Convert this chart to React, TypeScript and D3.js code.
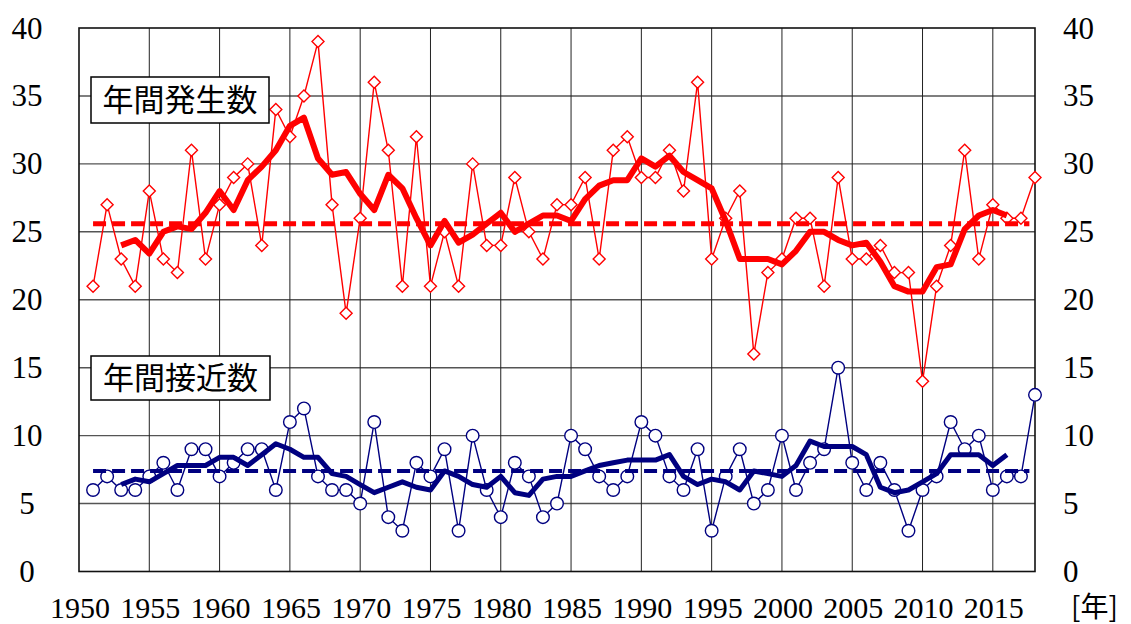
import React from 'react';
import * as d3 from 'd3';

// 年間発生数 / 年間接近数, 1951-2018
const years = d3.range(1951, 2019);
const formed = [
  21, 27, 23, 21, 28, 23, 22, 31, 23, 27,
  29, 30, 24, 34, 32, 35, 39, 27, 19, 26,
  36, 31, 21, 32, 21, 25, 21, 30, 24, 24,
  29, 25, 23, 27, 27, 29, 23, 31, 32, 29,
  29, 31, 28, 36, 23, 26, 28, 16, 22, 23,
  26, 26, 21, 29, 23, 23, 24, 22, 22, 14,
  21, 24, 31, 23, 27, 26, 26, 29,
];
const approach = [
  6, 7, 6, 6, 7, 8, 6, 9, 9, 7,
  8, 9, 9, 6, 11, 12, 7, 6, 6, 5,
  11, 4, 3, 8, 7, 9, 3, 10, 6, 4,
  8, 7, 4, 5, 10, 9, 7, 6, 7, 11,
  10, 7, 6, 9, 3, 7, 9, 5, 6, 10,
  6, 8, 9, 15, 8, 6, 8, 6, 3, 6,
  7, 11, 9, 10, 6, 7, 7, 13,
];
// 5-year running means, 1953-2016
const maYears = d3.range(1953, 2017);
const formedMA = [
  24.0, 24.4, 23.4, 25.0, 25.4, 25.2, 26.4, 28.0, 26.6, 28.8,
  29.8, 31.0, 32.8, 33.4, 30.4, 29.2, 29.4, 27.8, 26.6, 29.2,
  28.2, 26.0, 24.0, 25.8, 24.2, 24.8, 25.6, 26.4, 25.0, 25.6,
  26.2, 26.2, 25.8, 27.4, 28.4, 28.8, 28.8, 30.4, 29.8, 30.6,
  29.4, 28.8, 28.2, 25.8, 23.0, 23.0, 23.0, 22.6, 23.6, 25.0,
  25.0, 24.4, 24.0, 24.2, 22.8, 21.0, 20.6, 20.6, 22.4, 22.6,
  25.2, 26.2, 26.6, 26.2,
];
const approachMA = [
  6.4, 6.8, 6.6, 7.2, 7.8, 7.8, 7.8, 8.4, 8.4, 7.8,
  8.6, 9.4, 9.0, 8.4, 8.4, 7.2, 7.0, 6.4, 5.8, 6.2,
  6.6, 6.2, 6.0, 7.4, 7.0, 6.4, 6.2, 7.0, 5.8, 5.6,
  6.8, 7.0, 7.0, 7.4, 7.8, 8.0, 8.2, 8.2, 8.2, 8.6,
  7.0, 6.4, 6.8, 6.6, 6.0, 7.4, 7.2, 7.0, 7.8, 9.6,
  9.2, 9.2, 9.2, 8.6, 6.2, 5.8, 6.0, 6.6, 7.2, 8.6,
  8.6, 8.6, 7.8, 8.6,
];
const formedMean = 25.6;
const approachMean = 7.4;
const normalYears = [1951, 2017.6];

const yTicks = [0, 5, 10, 15, 20, 25, 30, 35, 40];
const xGridYears = [1955, 1960, 1965, 1970, 1975, 1980, 1985, 1990, 1995, 2000, 2005, 2010, 2015];
const xLabels = ['1950', '1955', '1960', '1965', '1970', '1975', '1980', '1985', '1990', '1995', '2000', '2005', '2010', '2015'];

const W = 1131;
const H = 624;
const serif = 'Liberation Serif, Times New Roman, DejaVu Serif, serif';
const jp = 'Noto Sans CJK JP, Noto Sans, sans-serif';
const RED = '#ff0000';
const NAVY = '#000080';

const App = () => {
  const x = d3.scaleLinear().domain([1950, 2018]).range([79, 1035]);
  const y = d3.scaleLinear().domain([0, 40]).range([571.5, 28]);

  const line = d3
    .line<[number, number]>()
    .x((d) => x(d[0]))
    .y((d) => y(d[1]));

  const zip = (xs: number[], vs: number[]) => xs.map((v, i) => [v, vs[i]] as [number, number]);

  const diamond = (cx: number, cy: number, r: number) =>
    `M${cx - r},${cy}L${cx},${cy - r}L${cx + r},${cy}L${cx},${cy + r}Z`;

  return (
    <svg width={W} height={H} style={{ position: 'fixed', left: 0, top: 0, background: '#fff' }}>
      {/* grid */}
      {yTicks.slice(1, -1).map((t) => (
        <line key={'h' + t} x1={x(1950)} x2={x(2018)} y1={y(t)} y2={y(t)} stroke="#555" strokeWidth={1.4} />
      ))}
      {xGridYears.map((yr) => (
        <line key={'v' + yr} x1={x(yr)} x2={x(yr)} y1={y(40)} y2={y(0)} stroke="#222" strokeWidth={1} />
      ))}
      <rect x={x(1950)} y={y(40)} width={x(2018) - x(1950)} height={y(0) - y(40)} fill="none" stroke="#111" strokeWidth={1.6} />

      {/* 年間発生数 */}
      <path d={line(zip(years, formed)) ?? ''} fill="none" stroke={RED} strokeWidth={1.4} />
      {years.map((yr, i) => (
        <path key={'fd' + yr} d={diamond(x(yr), y(formed[i]), 6)} fill="#fff" stroke={RED} strokeWidth={1.4} />
      ))}
      <path d={line(zip(maYears, formedMA)) ?? ''} fill="none" stroke={RED} strokeWidth={6} strokeLinejoin="round" />
      <path
        d={line(zip(normalYears, [formedMean, formedMean])) ?? ''}
        fill="none"
        stroke={RED}
        strokeWidth={5}
        strokeDasharray="13,6"
      />

      {/* 年間接近数 */}
      <path d={line(zip(years, approach)) ?? ''} fill="none" stroke={NAVY} strokeWidth={1.4} />
      {years.map((yr, i) => (
        <circle key={'ac' + yr} cx={x(yr)} cy={y(approach[i])} r={6.3} fill="#fff" stroke={NAVY} strokeWidth={1.4} />
      ))}
      <path d={line(zip(maYears, approachMA)) ?? ''} fill="none" stroke={NAVY} strokeWidth={5} strokeLinejoin="round" />
      <path
        d={line(zip(normalYears, [approachMean, approachMean])) ?? ''}
        fill="none"
        stroke={NAVY}
        strokeWidth={4}
        strokeDasharray="13,6"
      />

      {/* series labels */}
      <rect x={91} y={77} width={178} height={46} fill="#fff" stroke="#000" strokeWidth={1.5} />
      <text x={180} y={111} textAnchor="middle" style={{ fontFamily: jp, fontSize: 31 }} fill="#000">
        年間発生数
      </text>
      <rect x={91} y={356} width={179} height={44} fill="#fff" stroke="#000" strokeWidth={1.5} />
      <text x={180.5} y={389} textAnchor="middle" style={{ fontFamily: jp, fontSize: 31 }} fill="#000">
        年間接近数
      </text>

      {/* axes labels */}
      <g style={{ fontFamily: serif, fontSize: 31 }} fill="#000">
        {yTicks.map((t) => (
          <g key={'yl' + t}>
            <text x={27} y={y(t) + 10.5} textAnchor="middle">
              {t}
            </text>
            <text x={1063} y={y(t) + 10.5} textAnchor="start">
              {t}
            </text>
          </g>
        ))}
      </g>
      <g style={{ fontFamily: serif, fontSize: 30 }} fill="#000">
        {xLabels.map((l) => (
          <text key={'xl' + l} x={x(+l) + 1} y={618} textAnchor="middle">
            {l}
          </text>
        ))}
      </g>
      <text x={1071} y={617} style={{ fontFamily: jp, fontSize: 28 }} fill="#000">
        [年]
      </text>
    </svg>
  );
};

export default App;
